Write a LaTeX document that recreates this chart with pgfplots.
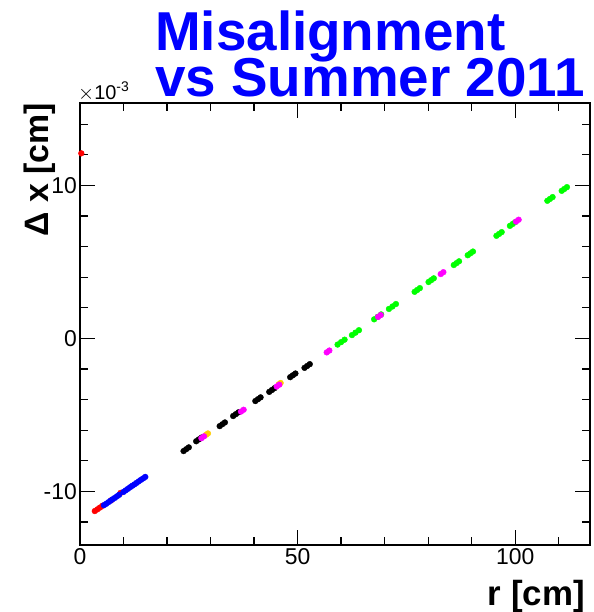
\documentclass[border=0pt]{standalone}
\usepackage{fontspec}
\setmainfont{Liberation Sans}
\usepackage{pgfplots}
\pgfplotsset{compat=1.18}
\definecolor{rootgreen}{RGB}{0,255,0}
\definecolor{rootmag}{RGB}{255,0,255}
\definecolor{rootorange}{RGB}{255,204,0}
\definecolor{rootblue}{RGB}{0,0,255}
\definecolor{rootred}{RGB}{255,0,0}
\begin{document}
\begin{tikzpicture}
\useasboundingbox (0,0) rectangle (594bp,612bp);
\begin{axis}[
  at={(80bp,67bp)}, anchor=south west,
  width=510bp, height=442bp, scale only axis,
  xmin=0, xmax=117.2, ymin=-13.5e-3, ymax=15.39e-3,
  xtick={0,50,100}, minor xtick={10,20,30,40,60,70,80,90,110},
  ytick={-10e-3,0,10e-3},
  minor ytick={-12e-3,-8e-3,-6e-3,-4e-3,-2e-3,2e-3,4e-3,6e-3,8e-3,12e-3,14e-3},
  scaled y ticks=base 10:3,
  ytick scale label code/.code={\fontsize{20}{20}\selectfont$\times$10\textsuperscript{#1}},
  every y tick scale label/.style={at={(rel axis cs:0,1)}, anchor=south west, inner sep=0pt, xshift=-2bp, yshift=2bp},
  scaled x ticks=false,
  /pgf/number format/assume math mode=true,
  tick align=inside,
  major tick length=15bp, minor tick length=8bp,
  axis line style={line width=1.2bp, black},
  every tick/.style={line width=1.2bp, black},
  tick label style={font=\fontsize{23}{23}\selectfont},
  yticklabel style={inner xsep=3bp},
  xlabel={\textbf{r [cm]}},
  xlabel style={at={(axis description cs:0.99,-0.138)}, anchor=base east, font=\fontsize{35}{35}\selectfont, inner sep=0pt},
  ylabel={\textbf{Δ x [cm]}},
  ylabel style={at={(axis description cs:-0.062,1)}, anchor=base east, font=\fontsize{34}{34}\selectfont, inner sep=0pt},
  clip=true,
]
% red
\addplot[only marks, mark=*, mark size=2.9bp, mark options={draw=rootred, fill=rootred}] coordinates {
(0.3,12.1e-3) (3.4,-11.28e-3) (4.0,-11.17e-3) (4.6,-11.05e-3) (5.2,-10.93e-3) (7.2,-10.57e-3) (9.3,-10.10e-3)
};
% blue
\addplot[only marks, mark=*, mark size=2.9bp, mark options={draw=rootblue, fill=rootblue}] coordinates {
(5.5,-10.90e-3) (6.0,-10.81e-3) (6.5,-10.71e-3) (7.0,-10.61e-3) (7.5,-10.51e-3)
(8.0,-10.42e-3) (8.5,-10.32e-3) (9.0,-10.22e-3) (10.0,-10.03e-3) (10.5,-9.93e-3)
(11.0,-9.83e-3) (11.5,-9.73e-3) (12.0,-9.63e-3) (12.5,-9.54e-3) (13.0,-9.44e-3)
(13.5,-9.34e-3) (14.0,-9.24e-3) (14.5,-9.15e-3) (15.0,-9.05e-3)
};
% green
\addplot[only marks, mark=*, mark size=2.9bp, mark options={draw=rootgreen, fill=rootgreen}] coordinates {
(59.2,-0.40e-3) (60.0,-0.24e-3) (60.8,-0.08e-3)
(62.5,0.22e-3) (63.3,0.38e-3) (64.1,0.54e-3)
(67.6,1.25e-3) (68.4,1.41e-3) (69.2,1.57e-3)
(71.0,1.93e-3) (71.8,2.09e-3) (72.6,2.25e-3)
(76.9,3.05e-3) (77.5,3.17e-3) (78.1,3.29e-3)
(80.1,3.69e-3) (80.7,3.81e-3) (81.3,3.93e-3)
(85.9,4.80e-3) (86.5,4.92e-3) (87.1,5.04e-3)
(89.1,5.44e-3) (89.7,5.56e-3) (90.3,5.68e-3)
(95.7,6.71e-3) (96.3,6.83e-3) (96.9,6.95e-3)
(98.8,7.36e-3) (99.4,7.48e-3) (100.0,7.60e-3)
(107.4,9.00e-3) (108.0,9.12e-3) (108.6,9.24e-3)
(110.7,9.65e-3) (111.3,9.77e-3) (111.9,9.89e-3)
};
% black
\addplot[only marks, mark=*, mark size=2.9bp, mark options={draw=black, fill=black}] coordinates {
(23.8,-7.36e-3) (24.4,-7.24e-3) (25.0,-7.12e-3)
(26.7,-6.72e-3) (27.3,-6.60e-3) (27.9,-6.48e-3)
(32.1,-5.73e-3) (32.7,-5.61e-3) (33.3,-5.49e-3)
(35.2,-5.07e-3) (35.8,-4.95e-3) (36.4,-4.83e-3)
(40.3,-4.09e-3) (40.9,-3.97e-3) (41.5,-3.85e-3)
(43.5,-3.49e-3) (44.1,-3.37e-3) (44.7,-3.25e-3)
(48.3,-2.53e-3) (48.9,-2.41e-3) (49.5,-2.29e-3)
(51.6,-1.92e-3) (52.2,-1.80e-3) (52.8,-1.68e-3)
};
% orange
\addplot[only marks, mark=*, mark size=2.9bp, mark options={draw=rootorange, fill=rootorange}] coordinates {
(29.0,-6.29e-3) (29.4,-6.21e-3)
(45.7,-2.99e-3) (46.1,-2.91e-3)
};
% magenta
\addplot[only marks, mark=*, mark size=2.9bp, mark options={draw=rootmag, fill=rootmag}] coordinates {
(27.9,-6.52e-3) (28.5,-6.40e-3)
(37.0,-4.78e-3) (37.6,-4.66e-3)
(45.2,-3.14e-3) (45.8,-3.02e-3)
(56.7,-0.91e-3) (57.3,-0.79e-3)
(68.5,1.41e-3) (69.1,1.53e-3)
(82.9,4.21e-3) (83.5,4.33e-3)
(100.2,7.64e-3) (100.8,7.76e-3)
};
\end{axis}
\node[anchor=base west, inner sep=0pt, text=rootblue, font=\fontsize{55}{55}\selectfont\bfseries] at (155bp,561bp) {Misalignment};
\node[anchor=base west, inner sep=0pt, text=rootblue, font=\fontsize{55}{55}\selectfont\bfseries] at (155bp,515bp) {vs Summer 2011};
\end{tikzpicture}
\end{document}
